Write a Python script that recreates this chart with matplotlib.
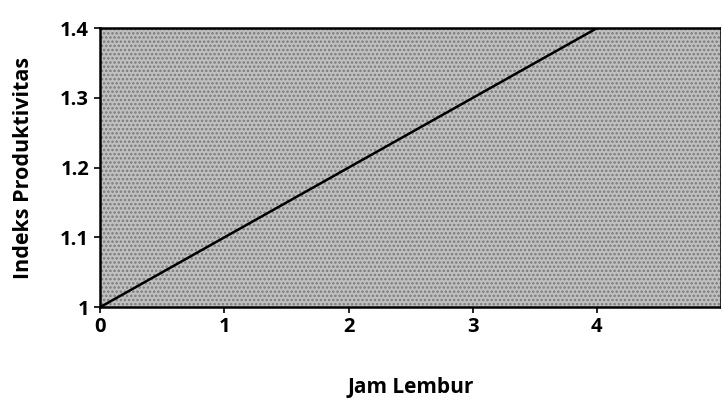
import matplotlib
matplotlib.use("Agg")
import matplotlib.pyplot as plt

# Data
jam_lembur = [0, 4]
indeks = [1.0, 1.4]
x_ticks = [0, 1, 2, 3, 4]
y_ticks = [1.0, 1.1, 1.2, 1.3, 1.4]
y_tick_labels = ["1", "1.1", "1.2", "1.3", "1.4"]

plt.rcParams['font.family'] = ['Open Sans', 'DejaVu Sans']
plt.rcParams['hatch.linewidth'] = 1.2

fig = plt.figure(figsize=(7.21, 4.03), dpi=100)
ax = fig.add_axes([0.139, 0.238, 0.861, 0.692])
ax.set_facecolor('#c0c0c0')
ax.fill_between([0, 5], 1.0, 1.4, facecolor='none', edgecolor='#7a7a7a',
                hatch='....', linewidth=0, zorder=0)
ax.plot(jam_lembur, indeks, color='black', linewidth=1.8, zorder=3)

ax.set_xlim(0, 5)
ax.set_ylim(1.0, 1.4)
ax.set_xticks(x_ticks)
ax.set_xticklabels([str(v) for v in x_ticks], fontsize=14.5, fontweight='bold')
ax.set_yticks(y_ticks)
ax.set_yticklabels(y_tick_labels, fontsize=14.5, fontweight='bold')
ax.tick_params(axis='x', direction='out', length=4, width=1.2, pad=3)
ax.tick_params(axis='y', direction='out', length=4, width=1.2, pad=4)
for s in ax.spines.values():
    s.set_color('black')
    s.set_linewidth(1.8)

ax.set_xlabel('Jam Lembur', fontsize=15, fontweight='bold')
ax.set_ylabel('Indeks Produktivitas', fontsize=15.5, fontweight='bold')
ax.xaxis.set_label_coords(0.5, -0.25)
ax.yaxis.set_label_coords(-0.107, 0.5)

fig.savefig('out.png', dpi=100)
